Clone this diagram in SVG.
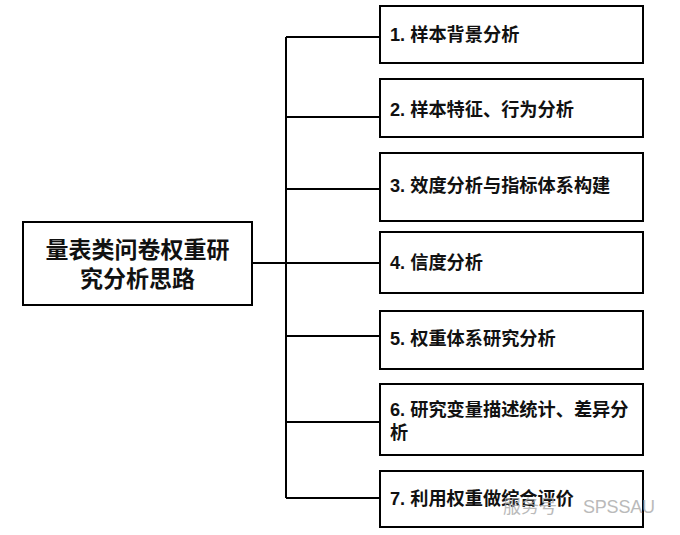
<svg xmlns="http://www.w3.org/2000/svg" width="680" height="535" viewBox="0 0 680 535">
<style>
.box{fill:#fff;stroke:#000;stroke-width:2}
.t{font-family:"Liberation Sans","Noto Sans CJK SC",sans-serif;font-weight:bold;font-size:18.2px;fill:#111}
.main{font-family:"Liberation Sans","Noto Sans CJK SC",sans-serif;font-weight:bold;font-size:23px;fill:#111}
.c{fill:none;stroke:#000;stroke-width:2}
.wm{font-family:"Liberation Sans","Noto Sans CJK SC",sans-serif;font-size:18px;fill:#aaa;opacity:0.8}
</style>
<rect width="680" height="535" fill="#fff"/>
<g id="connectors">
<path class="c" d="M252 263H286M286 37V498M286 37H380M286 117H380M286 189H380M286 263H380M286 336H380M286 422H380M286 498H380"/>
</g>
<g id="main">
<rect class="box" x="23" y="222" width="229" height="83"/>
<text class="main" x="137.5" y="258" text-anchor="middle">量表类问卷权重研</text>
<text class="main" x="137.5" y="287" text-anchor="middle">究分析思路</text>
</g>
<g id="n1"><rect class="box" x="380" y="6" width="263" height="57"/><text class="t" x="390" y="41">1. 样本背景分析</text></g>
<g id="n2"><rect class="box" x="380" y="79" width="263" height="58"/><text class="t" x="390" y="116">2. 样本特征、行为分析</text></g>
<g id="n3"><rect class="box" x="380" y="153" width="263" height="68"/><text class="t" x="390" y="192">3. 效度分析与指标体系构建</text></g>
<g id="n4"><rect class="box" x="380" y="232" width="263" height="61"/><text class="t" x="390" y="269">4. 信度分析</text></g>
<g id="n5"><rect class="box" x="380" y="311" width="263" height="58"/><text class="t" x="390" y="345">5. 权重体系研究分析</text></g>
<g id="n6"><rect class="box" x="380" y="384" width="263" height="71"/><text class="t" x="390" y="416">6. 研究变量描述统计、差异分</text><text class="t" x="390" y="439">析</text></g>
<g id="n7"><rect class="box" x="380" y="471" width="263" height="56"/><text class="t" x="390" y="505">7. 利用权重做综合评价</text></g>
<text class="wm" x="503" y="513">服务号</text>
<text class="wm" x="583" y="513" textLength="72">SPSSAU</text>
</svg>
